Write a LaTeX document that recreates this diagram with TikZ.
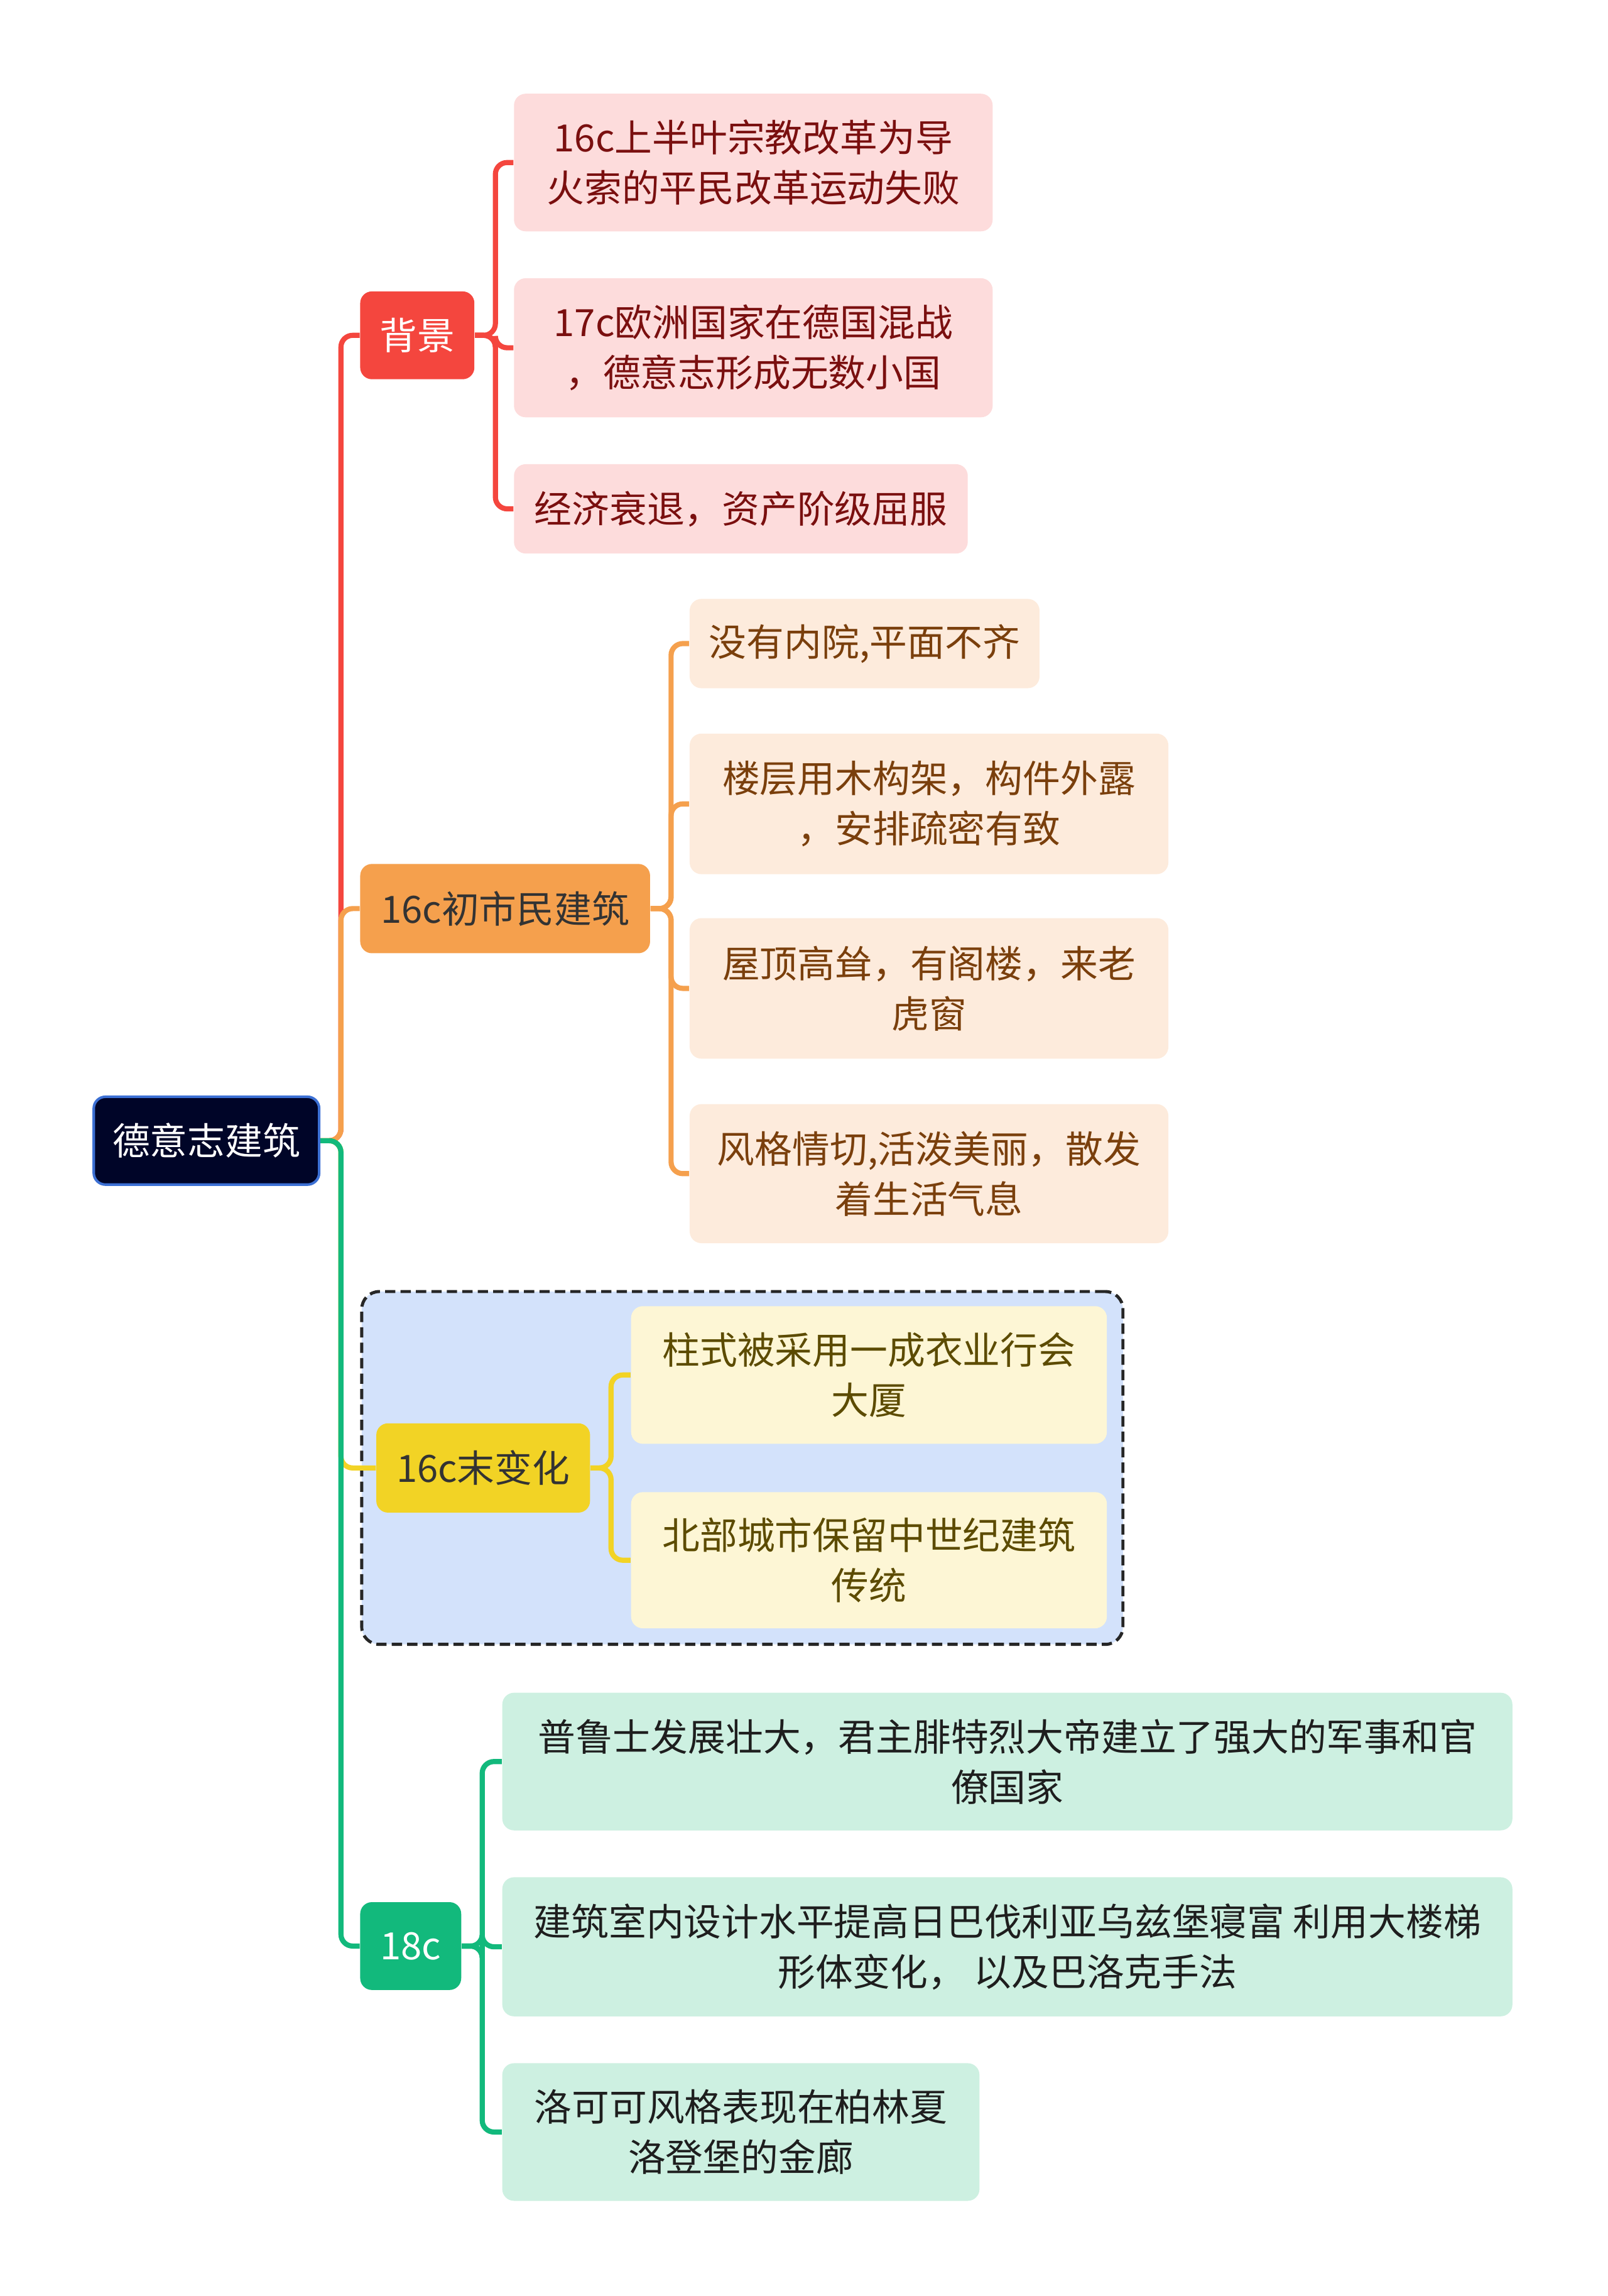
\documentclass[tikz,border=0pt]{standalone}
\usepackage{fontspec}
\setmainfont{Noto Sans CJK SC}
\usetikzlibrary{positioning,calc}
\definecolor{rootfill}{HTML}{000528}
\definecolor{rootline}{HTML}{3C70D4}
\definecolor{redmain}{HTML}{F4463E}
\definecolor{redsub}{HTML}{FDDCDC}
\definecolor{redtext}{HTML}{7A0F0F}
\definecolor{orgmain}{HTML}{F5A04D}
\definecolor{orgsub}{HTML}{FDEBDC}
\definecolor{orgtext}{HTML}{7A3F0C}
\definecolor{ylwmain}{HTML}{F2D325}
\definecolor{ylwsub}{HTML}{FDF6D5}
\definecolor{ylwtext}{HTML}{5C4B00}
\definecolor{grnmain}{HTML}{12B97C}
\definecolor{grnsub}{HTML}{CDF0E1}
\definecolor{grntext}{HTML}{1E1E1E}
\definecolor{groupfill}{HTML}{D3E2FB}

\begin{document}
\begin{tikzpicture}[x=0.02cm, y=-0.02cm,
    every node/.style={font=\fontsize{14.6}{19.5}\selectfont, align=center, inner sep=0pt, rounded corners=0.16cm},
    topic/.style={minimum height=1.2cm},
    redbox/.style={fill=redsub, text=redtext},
    orgbox/.style={fill=orgsub, text=orgtext},
    ylwbox/.style={fill=ylwsub, text=ylwtext},
    grnbox/.style={fill=grnsub, text=grntext},
    link/.style={line width=2pt, rounded corners=0.16cm}]
    \useasboundingbox (0,0) rectangle (1098,1568);

    % Frame round the 16c end branch
    \node[draw=black!85, dash pattern=on 4pt off 2pt, line width=1.2pt, fill=groupfill, rounded corners=0.24cm,
          minimum width=10.4cm, minimum height=4.82cm] (frame) at (507,1002.5) {};

    % Root
    \node[topic, fill=rootfill, draw=rootline, line width=1pt, text=white, minimum width=3.08cm] (root) at (141,779) {德意志建筑};

    % Background
    \node[topic, fill=redmain, text=white, minimum width=1.56cm] (bg) at (285,229) {背景};
    \node[redbox, minimum width=6.54cm, minimum height=1.88cm] (bga) at (514.5,111) {16c上半叶宗教改革为导\\火索的平民改革运动失败};
    \node[redbox, minimum width=6.54cm, minimum height=1.9cm] (bgb) at (514.5,237.5) {17c欧洲国家在德国混战\\，德意志形成无数小国};
    \node[redbox, minimum width=6.2cm, minimum height=1.22cm] (bgc) at (506,347.5) {经济衰退，资产阶级屈服};

    % Early 16c
    \node[topic, fill=orgmain, text=black!80, minimum width=3.96cm, minimum height=1.22cm] (early) at (345,620.5) {16c初市民建筑};
    \node[orgbox, minimum width=4.78cm, minimum height=1.22cm] (earlya) at (590.5,439.5) {没有内院,平面不齐};
    \node[orgbox, minimum width=6.54cm, minimum height=1.92cm] (earlyb) at (634.5,549) {楼层用木构架，构件外露\\，安排疏密有致};
    \node[orgbox, minimum width=6.54cm, minimum height=1.92cm] (earlyc) at (634.5,675) {屋顶高耸，有阁楼，来老\\虎窗};
    \node[orgbox, minimum width=6.54cm, minimum height=1.9cm] (earlyd) at (634.5,801.5) {风格情切,活泼美丽，散发\\着生活气息};

    % Late 16c
    \node[topic, fill=ylwmain, text=black!80, minimum width=2.92cm, minimum height=1.22cm] (late) at (330,1002.5) {16c末变化};
    \node[ylwbox, minimum width=6.5cm, minimum height=1.88cm] (latea) at (593.5,939) {柱式被采用一成衣业行会\\大厦};
    \node[ylwbox, minimum width=6.5cm, minimum height=1.86cm] (lateb) at (593.5,1065.5) {北部城市保留中世纪建筑\\传统};

    % 18c
    \node[topic, fill=grnmain, text=white, minimum width=1.38cm] (eight) at (280.5,1329) {18c};
    \node[grnbox, minimum width=13.8cm, minimum height=1.88cm] (eighta) at (688,1203) {普鲁士发展壮大，君主腓特烈大帝建立了强大的军事和官\\僚国家};
    \node[grnbox, minimum width=13.8cm, minimum height=1.9cm] (eightb) at (688,1329.5) {建筑室内设计水平提高日巴伐利亚乌兹堡寝富 利用大楼梯\\形体变化，\ 以及巴洛克手法};
    \node[grnbox, minimum width=6.52cm, minimum height=1.88cm] (eightc) at (506,1456) {洛可可风格表现在柏林夏\\洛登堡的金廊};

    % Trunk links
    \draw[link, redmain] (root.east) -- ++(14,0) |- (bg.west);
    \draw[link, orgmain] (root.east) -- ++(14,0) |- (early.west);
    \draw[link, ylwmain] (root.east) -- ++(14,0) |- (late.west);
    \draw[link, grnmain] (root.east) -- ++(14,0) |- (eight.west);

    % Branch links
    \foreach \kid in {bga,bgb,bgc}
        \draw[link, redmain] (bg.east) -- ++(14,0) |- (\kid.west);
    \foreach \kid in {earlya,earlyb,earlyc,earlyd}
        \draw[link, orgmain] (early.east) -- ++(14,0) |- (\kid.west);
    \foreach \kid in {latea,lateb}
        \draw[link, ylwmain] (late.east) -- ++(14,0) |- (\kid.west);
    \foreach \kid in {eighta,eightb,eightc}
        \draw[link, grnmain] (eight.east) -- ++(14,0) |- (\kid.west);
\end{tikzpicture}
\end{document}
